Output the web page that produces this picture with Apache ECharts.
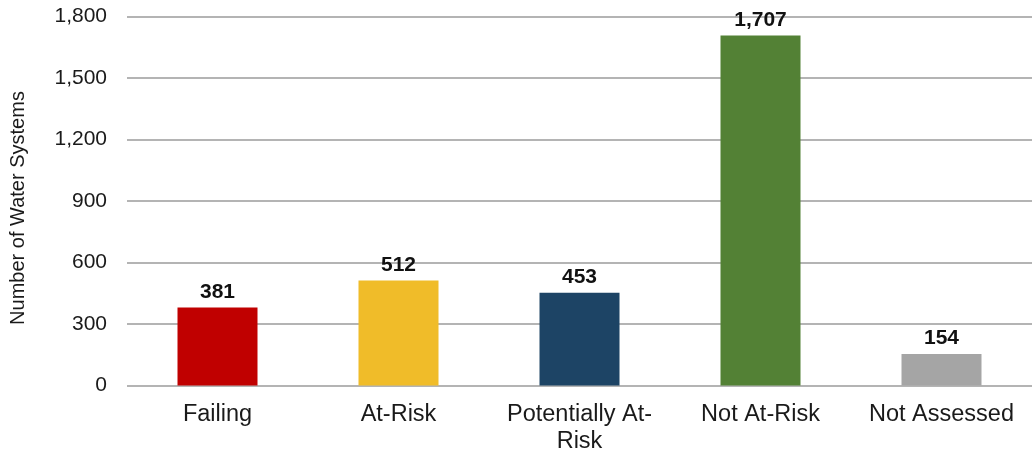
<!DOCTYPE html>
<html>
<head>
<meta charset="utf-8">
<script src="https://cdn.jsdelivr.net/npm/echarts@6/dist/echarts.min.js"></script>
<style>
  html, body { margin: 0; padding: 0; background: #fff; }
  #chart { width: 1032px; height: 455px; }
</style>
</head>
<body>
<div id="chart"></div>
<script>
// Water system risk assessment counts
const categories = ['Failing', 'At-Risk', 'Potentially At-Risk', 'Not At-Risk', 'Not Assessed'];
const counts = [381, 512, 453, 1707, 154];
const barColors = ['#C00000', '#F0BC29', '#1D4465', '#538135', '#A5A5A5'];
const yTicks = [0, 300, 600, 900, 1200, 1500, 1800];

const fontFamily = '"Liberation Sans", Arial, sans-serif';
const fmt = v => v.toLocaleString('en-US');

const chart = echarts.init(document.getElementById('chart'), null, { renderer: 'canvas' });
chart.setOption({
  animation: false,
  grid: {
    left: 127, right: 0, top: 16.5, bottom: 69.5,
    containLabel: false,
    outerBoundsMode: 'none'
  },
  xAxis: {
    type: 'category',
    data: categories,
    axisLine: { show: false },
    axisTick: { show: false },
    axisLabel: {
      margin: 16,
      fontFamily: fontFamily,
      fontSize: 23.5,
      color: '#1a1a1a',
      lineHeight: 27,
      interval: 0,
      formatter: v => v === 'Potentially At-Risk' ? 'Potentially At-\nRisk' : v
    }
  },
  yAxis: {
    type: 'value',
    min: yTicks[0],
    max: yTicks[yTicks.length - 1],
    interval: 300,
    name: 'Number of Water Systems',
    nameLocation: 'middle',
    nameGap: 99,
    nameTextStyle: {
      fontFamily: fontFamily,
      fontSize: 20,
      color: '#1a1a1a',
      padding: [0, 14, 0, 0]
    },
    axisLine: { show: false },
    axisTick: { show: false },
    splitLine: { lineStyle: { color: '#B4B4B4', width: 2 } },
    axisLabel: {
      margin: 20,
      fontFamily: fontFamily,
      fontSize: 21,
      color: '#1a1a1a',
      formatter: v => fmt(v)
    }
  },
  series: [{
    type: 'bar',
    barWidth: 80,
    data: counts.map((v, i) => ({ value: v, itemStyle: { color: barColors[i] } })),
    label: {
      show: true,
      position: 'top',
      distance: 5,
      fontFamily: fontFamily,
      fontSize: 21,
      fontWeight: 'bold',
      color: '#111',
      formatter: p => fmt(p.value)
    }
  }]
});
</script>
</body>
</html>
